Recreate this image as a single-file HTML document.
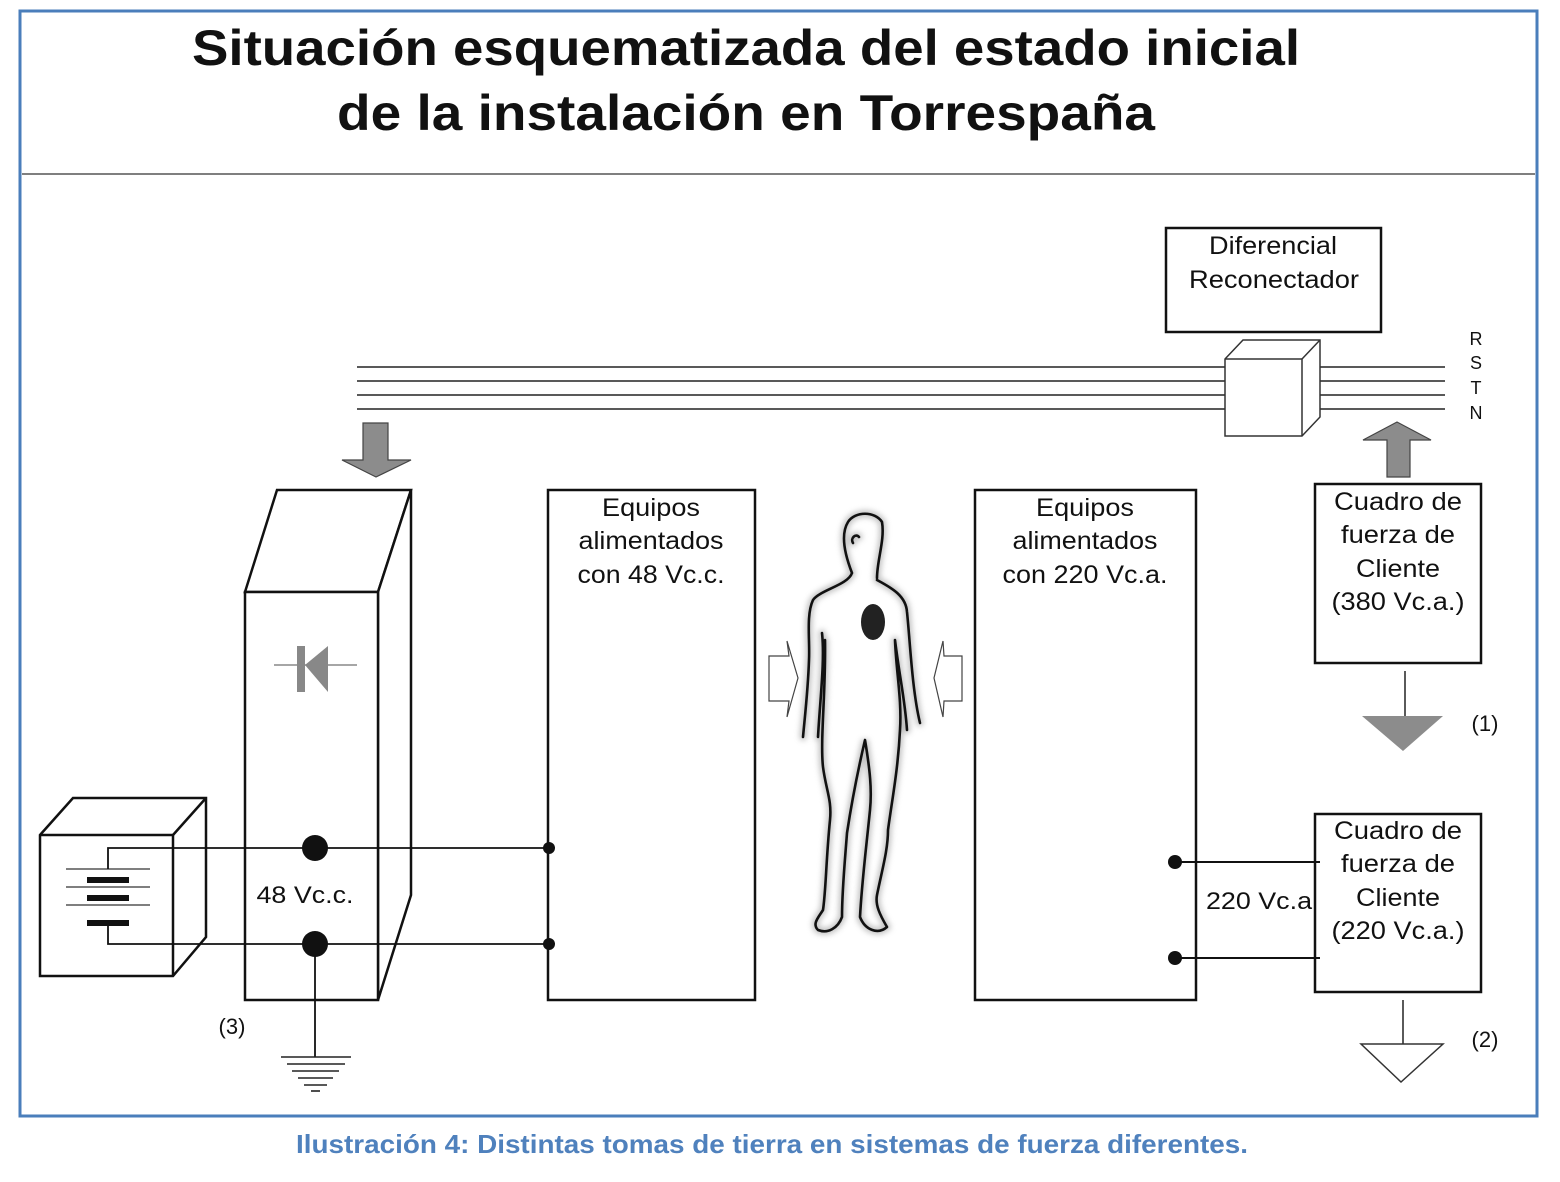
<!DOCTYPE html>
<html><head><meta charset="utf-8"><style>
html,body{margin:0;padding:0;background:#fff;}
svg{display:block;}
text{font-family:"Liberation Sans",Arial,sans-serif;fill:#111;}
</style></head><body>
<svg width="1560" height="1182" viewBox="0 0 1560 1182" xmlns="http://www.w3.org/2000/svg">
<defs>
<filter id="sh" x="-20%" y="-20%" width="140%" height="140%"><feGaussianBlur stdDeviation="3"/></filter>
<path id="body" d="M852,573 C845,555 840,535 848,522 C855,511 875,511 882,522 C885,540 877,560 877,578 M852,573 C848,585 820,590 813,600 C806,615 810,640 809,660 C808,690 805,715 803,737 M822,633 C825,660 820,700 818,737 M825,640 C826,690 820,740 823,767 C826,790 832,800 830,820 C826,860 826,890 823,910 C818,918 812,924 818,930 C828,934 838,928 842,917 C842,890 845,860 847,833 C852,800 858,770 865,740 C870,770 872,790 870,810 C866,850 862,880 860,917 C865,930 878,935 887,927 C880,915 875,905 877,895 C882,870 888,850 888,830 C892,800 898,770 900,730 C902,700 896,670 895,640 M877,580 C892,588 906,596 907,612 C910,640 912,690 920,723 M895,640 C900,680 905,700 907,730 M853,543 C850,538 856,533 859,537"/>
</defs>
<rect x="20" y="11" width="1517" height="1105" fill="#fff" stroke="#4a7ebb" stroke-width="3"/>
<line x1="22" y1="174" x2="1535" y2="174" stroke="#555" stroke-width="1.5"/>
<text x="746" y="65" text-anchor="middle" font-size="50" font-weight="bold" textLength="1108" lengthAdjust="spacingAndGlyphs">Situación esquematizada del estado inicial</text>
<text x="746" y="130" text-anchor="middle" font-size="50" font-weight="bold" textLength="818" lengthAdjust="spacingAndGlyphs">de la instalación en Torrespaña</text>

<rect x="1166" y="228" width="215" height="104" fill="none" stroke="#111" stroke-width="2.5"/>
<text x="1273" y="254" text-anchor="middle" font-size="25" textLength="128" lengthAdjust="spacingAndGlyphs">Diferencial</text>
<text x="1274" y="288" text-anchor="middle" font-size="25" textLength="170" lengthAdjust="spacingAndGlyphs">Reconectador</text>

<g stroke="#222" stroke-width="1.6">
<line x1="357" y1="367" x2="1445" y2="367"/>
<line x1="357" y1="381" x2="1445" y2="381"/>
<line x1="357" y1="395" x2="1445" y2="395"/>
<line x1="357" y1="409" x2="1445" y2="409"/>
</g>
<g stroke="#333" stroke-width="1.5" fill="#fff">
<polygon points="1225,359 1243,340 1320,340 1320,417 1302,436 1225,436"/>
<line x1="1225" y1="359" x2="1302" y2="359"/>
<line x1="1302" y1="359" x2="1320" y2="340"/>
<line x1="1302" y1="359" x2="1302" y2="436"/>
</g>
<g font-size="18" text-anchor="middle">
<text x="1476" y="345">R</text><text x="1476" y="369">S</text><text x="1476" y="394">T</text><text x="1476" y="419">N</text>
</g>

<polygon points="363,423 388,423 388,460 411,460 376,477 342,460 363,460" fill="#8c8c8c" stroke="#444" stroke-width="1.2"/>
<polygon points="1387,477 1410,477 1410,440 1431,440 1397,422 1363,440 1387,440" fill="#8c8c8c" stroke="#444" stroke-width="1.2"/>

<g stroke="#111" stroke-width="2.5" fill="#fff">
<polygon points="245,592 277,490 411,490 378,592"/>
<polygon points="378,592 411,490 411,895 378,1000"/>
<rect x="245" y="592" width="133" height="408"/>
</g>
<line x1="274" y1="665" x2="357" y2="665" stroke="#888" stroke-width="1.5"/>
<rect x="297" y="646" width="8" height="46" fill="#888"/>
<polygon points="305,665 328,646 328,692" fill="#888"/>

<g stroke="#111" stroke-width="2.5" fill="#fff">
<polygon points="40,835 73,798 206,798 206,937 173,976 40,976"/>
<line x1="40" y1="835" x2="173" y2="835"/>
<line x1="173" y1="835" x2="206" y2="798"/>
<line x1="173" y1="835" x2="173" y2="976"/>
</g>
<g stroke="#333" stroke-width="1.3">
<line x1="66" y1="869" x2="150" y2="869"/>
<line x1="66" y1="887" x2="150" y2="887"/>
<line x1="66" y1="905" x2="150" y2="905"/>
</g>
<rect x="87" y="877" width="42" height="6" fill="#111"/>
<rect x="87" y="895" width="42" height="6" fill="#111"/>
<rect x="87" y="920" width="42" height="6" fill="#111"/>
<g stroke="#111" stroke-width="1.8" fill="none">
<polyline points="108,869 108,848 549,848"/>
<polyline points="108,926 108,944 549,944"/>
<line x1="315" y1="944" x2="315" y2="1057"/>
</g>
<circle cx="315" cy="848" r="13" fill="#111"/>
<circle cx="315" cy="944" r="13" fill="#111"/>
<circle cx="549" cy="848" r="6" fill="#111"/>
<circle cx="549" cy="944" r="6" fill="#111"/>
<g stroke="#222" stroke-width="1.6">
<line x1="281" y1="1057" x2="351" y2="1057"/>
<line x1="287" y1="1064" x2="345" y2="1064"/>
<line x1="292" y1="1071" x2="339" y2="1071"/>
<line x1="298" y1="1078" x2="333" y2="1078"/>
<line x1="304" y1="1085" x2="327" y2="1085"/>
<line x1="311" y1="1091" x2="320" y2="1091"/>
</g>
<text x="305" y="903" text-anchor="middle" font-size="24" textLength="97" lengthAdjust="spacingAndGlyphs">48 Vc.c.</text>
<text x="232" y="1034" text-anchor="middle" font-size="22">(3)</text>

<rect x="548" y="490" width="207" height="510" fill="none" stroke="#111" stroke-width="2.5"/>
<text x="651" y="516" text-anchor="middle" font-size="25" textLength="98" lengthAdjust="spacingAndGlyphs">Equipos</text>
<text x="651" y="549" text-anchor="middle" font-size="25" textLength="145" lengthAdjust="spacingAndGlyphs">alimentados</text>
<text x="651" y="583" text-anchor="middle" font-size="25" textLength="147" lengthAdjust="spacingAndGlyphs">con 48 Vc.c.</text>

<rect x="975" y="490" width="221" height="510" fill="none" stroke="#111" stroke-width="2.5"/>
<text x="1085" y="516" text-anchor="middle" font-size="25" textLength="98" lengthAdjust="spacingAndGlyphs">Equipos</text>
<text x="1085" y="549" text-anchor="middle" font-size="25" textLength="145" lengthAdjust="spacingAndGlyphs">alimentados</text>
<text x="1085" y="583" text-anchor="middle" font-size="25" textLength="165" lengthAdjust="spacingAndGlyphs">con 220 Vc.a.</text>

<rect x="1315" y="484" width="166" height="179" fill="none" stroke="#111" stroke-width="2.5"/>
<g font-size="25" text-anchor="middle">
<text x="1398" y="510" textLength="128" lengthAdjust="spacingAndGlyphs">Cuadro de</text>
<text x="1398" y="543" textLength="114" lengthAdjust="spacingAndGlyphs">fuerza de</text>
<text x="1398" y="577" textLength="84" lengthAdjust="spacingAndGlyphs">Cliente</text>
<text x="1398" y="610" textLength="133" lengthAdjust="spacingAndGlyphs">(380 Vc.a.)</text>
</g>
<line x1="1405" y1="671" x2="1405" y2="716" stroke="#222" stroke-width="1.5"/>
<polygon points="1362,716 1443,716 1403,751" fill="#8c8c8c"/>
<text x="1485" y="731" text-anchor="middle" font-size="22">(1)</text>

<rect x="1315" y="814" width="166" height="178" fill="none" stroke="#111" stroke-width="2.5"/>
<g font-size="25" text-anchor="middle">
<text x="1398" y="839" textLength="128" lengthAdjust="spacingAndGlyphs">Cuadro de</text>
<text x="1398" y="872" textLength="114" lengthAdjust="spacingAndGlyphs">fuerza de</text>
<text x="1398" y="906" textLength="84" lengthAdjust="spacingAndGlyphs">Cliente</text>
<text x="1398" y="939" textLength="133" lengthAdjust="spacingAndGlyphs">(220 Vc.a.)</text>
</g>
<line x1="1175" y1="862" x2="1320" y2="862" stroke="#111" stroke-width="2"/>
<line x1="1175" y1="958" x2="1320" y2="958" stroke="#111" stroke-width="2"/>
<circle cx="1175" cy="862" r="7" fill="#111"/>
<circle cx="1175" cy="958" r="7" fill="#111"/>
<text x="1206" y="909" font-size="24" textLength="106" lengthAdjust="spacingAndGlyphs">220 Vc.a</text>
<line x1="1403" y1="1000" x2="1403" y2="1044" stroke="#222" stroke-width="1.5"/>
<polygon points="1361,1044 1443,1044 1401,1082" fill="#fff" stroke="#333" stroke-width="1.5"/>
<text x="1485" y="1047" text-anchor="middle" font-size="22">(2)</text>

<polygon points="769,656 789,656 787,641 798,678 787,717 789,701 769,701" fill="#fff" stroke="#444" stroke-width="1.2"/>
<polygon points="962,656 944,656 943,641 934,678 943,717 944,701 962,701" fill="#fff" stroke="#444" stroke-width="1.2"/>

<use href="#body" fill="none" stroke="#999" stroke-width="7" filter="url(#sh)" opacity="0.6" stroke-linecap="round"/>
<use href="#body" fill="none" stroke="#111" stroke-width="2.6" stroke-linecap="round" stroke-linejoin="round"/>
<ellipse cx="873" cy="622" rx="12" ry="18" fill="#222"/>

<text x="772" y="1153" text-anchor="middle" font-size="26" font-weight="bold" style="fill:#4f81bd" textLength="952" lengthAdjust="spacingAndGlyphs">Ilustración 4: Distintas tomas de tierra en sistemas de fuerza diferentes.</text>
</svg>
</body></html>
